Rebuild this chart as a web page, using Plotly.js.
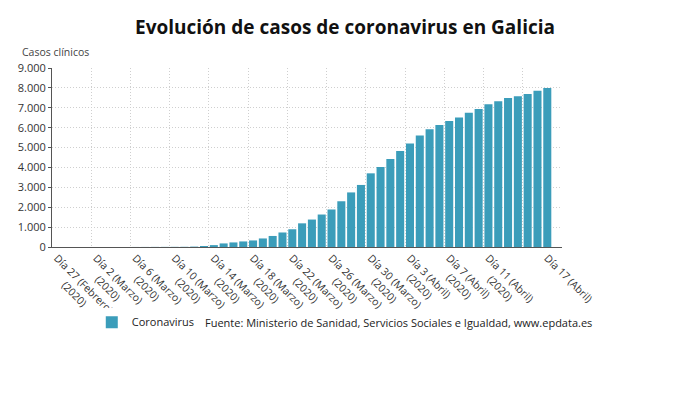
<!DOCTYPE html>
<html>
<head>
<meta charset="utf-8">
<script src="https://cdn.plot.ly/plotly-3.0.1.min.js"></script>
<style>
  html, body { margin: 0; padding: 0; background: #fff; }
  #chart { width: 690px; height: 406px; }
</style>
</head>
<body>
<div id="chart"></div>
<script>
// Day index 0 = 27 Feb 2020 ... 50 = 17 Apr 2020
const days = [];
for (let i = 0; i <= 50; i++) days.push(i);

// Cumulative clinical cases
const casos = [
    0, 0, 0, 0, 0, 0, 1, 1, 2, 3,
    5, 6, 8, 10, 20, 50, 95, 180, 230, 280,
    330, 430, 555, 730, 892, 1190, 1380, 1633, 1886, 2300,
    2744, 3120, 3704, 4024, 4428, 4832, 5202, 5606, 5926, 6128,
    6330, 6515, 6751, 6936, 7172, 7323, 7491, 7576, 7694, 7862,
    7997
];

const tickDays = [0, 4, 8, 12, 16, 20, 24, 28, 32, 36, 40, 44, 50];
const tickLine1 = [
    'Día 27 (Febrero)', 'Día 2 (Marzo)', 'Día 6 (Marzo)', 'Día 10 (Marzo)',
    'Día 14 (Marzo)', 'Día 18 (Marzo)', 'Día 22 (Marzo)', 'Día 26 (Marzo)',
    'Día 30 (Marzo)', 'Día 3 (Abril)', 'Día 7 (Abril)', 'Día 11 (Abril)',
    'Día 17 (Abril)'
];
const tickLine2 = [
    '(2020)', '(2020)', '(2020)', '(2020)', '(2020)', '(2020)', '(2020)',
    '(2020)', '(2020)', '(2020)', '(2020)', '(2020)', ''
];

const yTicks = [0, 1000, 2000, 3000, 4000, 5000, 6000, 7000, 8000, 9000];

const FONT = '"Open Sans", "Noto Sans", sans-serif';
const TICK_SIZE = 10.5;

// the source centres the second line of each tick label under the first;
// plotly left-aligns rotated lines, so pad the second line with nbsp
const measure = document.createElement('canvas').getContext('2d');
measure.font = TICK_SIZE + 'px "Open Sans"';
const nbspW = measure.measureText('\u00a0').width;
const tickText = tickLine1.map((l1, i) => {
    const l2 = tickLine2[i];
    if (!l2) return l1;
    const pad = (measure.measureText(l1).width - measure.measureText(l2).width) / 2;
    return l1 + '<br>' + '\u00a0'.repeat(Math.max(0, Math.round(pad / nbspW))) + l2;
});

// vertical grid every 4 days, on the bar boundaries
const gridDays = [];
for (let g = -0.5; g <= 51.5; g += 4) gridDays.push(g);

const traces = [
    {
        x: days,
        y: casos,
        type: 'bar',
        name: 'Coronavirus',
        marker: { color: '#3b9dba' },
        hoverinfo: 'skip'
    },
    {
        // invisible helper so the grid axis gets drawn
        x: [-0.5, 51.5],
        y: [0, 0],
        type: 'scatter',
        mode: 'none',
        xaxis: 'x2',
        showlegend: false,
        hoverinfo: 'skip'
    }
];

const layout = {
    width: 690,
    height: 406,
    paper_bgcolor: '#fff',
    plot_bgcolor: '#fff',
    separators: ',.',
    font: { family: FONT, size: 11, color: '#333' },
    title: {
        text: '<b>Evolución de casos de coronavirus en Galicia</b>',
        font: { family: FONT, size: 19, color: '#111' },
        x: 0.5,
        xanchor: 'center',
        y: 0.932,
        yanchor: 'middle'
    },
    margin: { l: 52, r: 128, t: 68, b: 159, pad: 0 },
    bargap: 0.18,
    showlegend: true,
    legend: {
        orientation: 'h',
        x: 0.078,
        xanchor: 'left',
        y: -0.42,
        yanchor: 'middle',
        font: { family: FONT, size: 11, color: '#222' },
        itemwidth: 30
    },
    xaxis: {
        range: [-0.5, 51.5],
        tickmode: 'array',
        tickvals: tickDays,
        ticktext: tickText,
        tickangle: 45,
        tickfont: { family: FONT, size: TICK_SIZE, color: '#333' },
        showgrid: false,
        zeroline: false,
        showline: true,
        linecolor: '#555',
        linewidth: 1,
        ticks: '',
        fixedrange: true
    },
    xaxis2: {
        overlaying: 'x',
        matches: 'x',
        range: [-0.5, 51.5],
        tickmode: 'array',
        tickvals: gridDays,
        showticklabels: false,
        showgrid: true,
        gridcolor: '#cfcfcf',
        griddash: '1px,2px',
        gridwidth: 1,
        zeroline: false,
        showline: false,
        ticks: ''
    },
    yaxis: {
        range: [0, 9000],
        tickmode: 'array',
        tickvals: yTicks,
        tickformat: ',d',
        tickfont: { family: FONT, size: 11, color: '#333' },
        showgrid: true,
        gridcolor: '#cfcfcf',
        griddash: '1px,2px',
        zeroline: false,
        showline: true,
        linecolor: '#555',
        linewidth: 1,
        ticks: 'outside',
        ticklen: 3,
        tickcolor: '#555',
        fixedrange: true
    },
    annotations: [
        {
            text: 'Casos clínicos',
            xref: 'paper', yref: 'paper',
            x: -0.063, y: 1.09,
            xanchor: 'left', yanchor: 'middle',
            showarrow: false,
            font: { family: FONT, size: 10.5, color: '#444' }
        },
        {
            text: 'Fuente: Ministerio de Sanidad, Servicios Sociales e Igualdad, www.epdata.es',
            xref: 'paper', yref: 'paper',
            x: 0.296, y: -0.42,
            xanchor: 'left', yanchor: 'middle',
            showarrow: false,
            font: { family: FONT, size: 11, color: '#222' }
        }
    ]
};

Plotly.newPlot('chart', traces, layout, { displayModeBar: false, staticPlot: true });
</script>
</body>
</html>
